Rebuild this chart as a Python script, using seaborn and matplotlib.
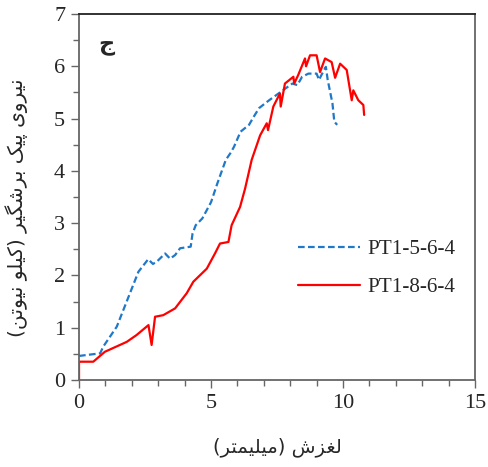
import numpy as np
import pandas as pd
import seaborn as sns
import matplotlib.pyplot as plt
from matplotlib.ticker import MultipleLocator

# slip (mm) and peak shear force (kN)
pt5_x = [0.0, 0.8, 0.92, 1.43, 1.93, 2.25, 2.62, 2.8, 2.94, 3.26, 3.45, 3.64, 3.83, 4.23,
         4.3, 4.42, 4.67, 5.0, 5.24, 5.56, 5.75, 5.87, 6.12, 6.44, 6.6, 6.82, 7.2, 7.64,
         8.08, 8.27, 8.45, 8.69, 9.0, 9.09, 9.2, 9.35, 9.42, 9.6, 9.67, 9.78]
pt5_y = [0.46, 0.51, 0.64, 1.02, 1.66, 2.07, 2.31, 2.22, 2.26, 2.42, 2.32, 2.39, 2.52, 2.55,
         2.8, 2.96, 3.09, 3.4, 3.76, 4.21, 4.35, 4.46, 4.75, 4.88, 5.02, 5.2, 5.35, 5.51,
         5.67, 5.64, 5.8, 5.86, 5.86, 5.74, 5.85, 5.99, 5.74, 5.29, 4.94, 4.88]

pt8_x = [0.0, 0.0, 0.54, 0.98, 1.81, 2.18, 2.63, 2.75, 2.88, 3.19, 3.64, 4.08, 4.33, 4.84,
         5.15, 5.34, 5.66, 5.78, 6.1, 6.29, 6.54, 6.86, 7.11, 7.16, 7.36, 7.61, 7.64, 7.8,
         8.12, 8.15, 8.3, 8.56, 8.6, 8.75, 9.0, 9.13, 9.32, 9.57, 9.7, 9.89, 10.14, 10.33,
         10.39, 10.58, 10.77, 10.8]
pt8_y = [0.0, 0.35, 0.35, 0.54, 0.73, 0.86, 1.05, 0.67, 1.21, 1.24, 1.37, 1.66, 1.88, 2.13,
         2.42, 2.61, 2.64, 2.96, 3.31, 3.66, 4.21, 4.68, 4.91, 4.78, 5.23, 5.48, 5.23, 5.67,
         5.8, 5.67, 5.83, 6.15, 6.0, 6.21, 6.21, 5.89, 6.15, 6.08, 5.78, 6.05, 5.93, 5.35,
         5.54, 5.35, 5.26, 5.07]

series_names = ["PT1-5-6-4", "PT1-8-6-4"]
x_label = "لغزش (میلیمتر)"
y_label = "نیروی پیک برشگیر (کیلو نیوتن)"
panel_label = "ج"

# minimal Persian shaping (matplotlib has no complex text layout)
DUAL = {"ن": "\uFEE5\uFEE6\uFEE7\uFEE8", "ی": "\uFBFC\uFBFD\uFBFE\uFBFF",
        "پ": "\uFB56\uFB57\uFB58\uFB59", "ک": "\uFB8E\uFB8F\uFB90\uFB91",
        "ب": "\uFE8F\uFE90\uFE91\uFE92", "ش": "\uFEB5\uFEB6\uFEB7\uFEB8",
        "گ": "\uFB92\uFB93\uFB94\uFB95", "ل": "\uFEDD\uFEDE\uFEDF\uFEE0",
        "غ": "\uFECD\uFECE\uFECF\uFED0", "م": "\uFEE1\uFEE2\uFEE3\uFEE4",
        "ت": "\uFE95\uFE96\uFE97\uFE98", "ج": "\uFE9D\uFE9E\uFE9F\uFEA0"}
RIGHT = {"ر": "\uFEAD\uFEAE", "و": "\uFEED\uFEEE", "ز": "\uFEAF\uFEB0"}


def shape(text):
    out = []
    for i, ch in enumerate(text):
        if ch not in DUAL and ch not in RIGHT:
            out.append(ch)
            continue
        prev_joins = i > 0 and text[i - 1] in DUAL
        next_joins = ch in DUAL and i + 1 < len(text) and (text[i + 1] in DUAL or text[i + 1] in RIGHT)
        forms = DUAL.get(ch) or RIGHT[ch]
        if prev_joins and next_joins:
            out.append(forms[3])
        elif prev_joins:
            out.append(forms[1])
        elif next_joins:
            out.append(forms[2])
        else:
            out.append(forms[0])
    vis = "".join(out)[::-1]
    return vis.translate(str.maketrans("()", ")("))


df = pd.concat([
    pd.DataFrame({"slip": pt5_x, "force": pt5_y, "series": series_names[0]}),
    pd.DataFrame({"slip": pt8_x, "force": pt8_y, "series": series_names[1]}),
])

sns.set_style("ticks")
plt.rcParams["font.family"] = ["Liberation Serif", "DejaVu Sans"]

fig = plt.figure(figsize=(4.89, 4.67), dpi=100)
ax = fig.add_axes([0.1616, 0.1863, 0.8098, 0.7837])

sns.lineplot(data=df, x="slip", y="force", hue="series", style="series",
             palette={series_names[0]: "#1F78C8", series_names[1]: "#FF0000"},
             dashes={series_names[0]: (3, 1.5), series_names[1]: ""},
             sort=False, estimator=None, linewidth=1.6, ax=ax)

ax.set_xlim(0, 15)
ax.set_ylim(0, 7)
ax.xaxis.set_major_locator(MultipleLocator(5))
ax.xaxis.set_minor_locator(MultipleLocator(1))
ax.yaxis.set_major_locator(MultipleLocator(1))
ax.yaxis.set_minor_locator(MultipleLocator(0.5))
ax.tick_params(which="major", length=6, width=1, color="#666666", labelsize=16, pad=4)
ax.tick_params(which="minor", length=4, width=1, color="#666666")
for s in ax.spines.values():
    s.set_color("#666666")
    s.set_linewidth(1.3)
ax.spines["top"].set_color("#222222")

ax.set_xlabel(shape(x_label), fontsize=14, family=["DejaVu Sans"])
ax.xaxis.set_label_coords(0.5, -0.158)
ax.set_ylabel(shape(y_label), fontsize=14.5, family=["DejaVu Sans"])
ax.yaxis.set_label_coords(-0.128, 0.47)
ax.text(0.07, 0.915, shape(panel_label), transform=ax.transAxes, fontsize=16,
        fontweight="bold", family=["DejaVu Sans"], va="center", ha="center")

leg = ax.legend(loc="center right", bbox_to_anchor=(0.998, 0.305), frameon=False,
                fontsize=15.2, handlelength=2.9, labelspacing=0.85, handletextpad=0.35)

fig.savefig("out.png", dpi=100)
